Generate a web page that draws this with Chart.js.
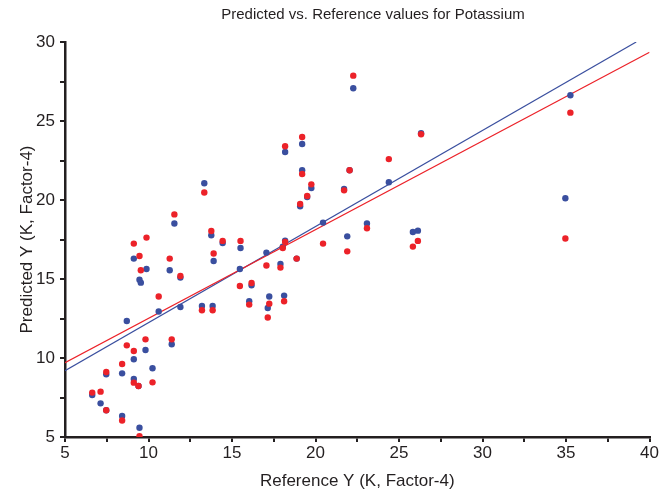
<!DOCTYPE html>
<html>
<head>
<meta charset="utf-8">
<script src="https://cdn.jsdelivr.net/npm/chart.js@4.4.1/dist/chart.umd.min.js"></script>
<style>
  html, body { margin: 0; padding: 0; background: #fff; }
  #chart { display: block; }
</style>
</head>
<body>
<canvas id="chart" width="662" height="494"></canvas>
<script>
// reference values (x) shared by both predicted series
const refX = [6.63, 7.13, 7.47, 7.47, 8.42, 8.42, 8.70, 9.12, 9.12, 9.12, 9.46, 9.54, 9.40, 9.46, 9.88,
  9.82, 10.24, 10.61, 11.27, 11.39, 11.55, 11.91, 11.91, 13.20, 13.34, 13.76, 13.84, 13.90, 14.44, 15.51,
  15.47, 16.03, 16.17, 17.06, 17.14, 17.23, 17.90, 18.04, 18.12, 18.18, 18.18, 18.87, 19.08, 19.20, 19.20,
  19.50, 19.75, 20.45, 21.71, 21.90, 22.04, 22.26, 23.08, 24.39, 25.83, 26.13, 26.32, 34.96, 35.26];

const predBlue = [7.66, 7.13, 8.97, 6.69, 9.03, 6.33, 12.34, 16.29, 9.92, 8.67, 14.96, 14.77, 8.23, 5.59, 15.63,
  10.51, 9.35, 12.94, 15.55, 10.87, 18.51, 15.09, 13.23, 13.29, 21.06, 17.77, 13.29, 16.14, 17.28, 16.96,
  15.63, 13.59, 14.60, 16.67, 13.16, 13.89, 15.95, 17.05, 13.95, 17.43, 23.04, 16.29, 19.60, 23.54, 21.88,
  20.19, 20.76, 18.57, 20.70, 17.70, 21.88, 27.07, 18.51, 21.12, 17.97, 18.06, 24.22, 20.11, 26.63];

const predRed = [7.81, 7.87, 9.11, 6.69, 9.62, 6.04, 10.80, 17.24, 10.44, 8.44, 16.46, 15.55, 8.23, 5.05, 17.62,
  11.18, 8.46, 13.89, 16.29, 11.18, 19.09, 15.19, null, 13.02, 20.47, 18.04, 13.02, 16.61, 17.41, 17.41,
  14.56, 13.38, 14.75, 15.85, 12.56, 13.44, 15.72, 16.96, 13.59, 17.34, 23.40, 16.29, 19.75, 23.99, 21.65,
  20.25, 20.99, 17.24, 20.61, 16.75, 21.88, 27.87, 18.21, 22.59, 17.05, 17.41, 24.16, 17.56, 25.53];

// fitted regression lines (end points)
const blueFitX = [5, 39.2];
const blueFitY = [9.2, 30];
const redFitX = [5, 40];
const redFitY = [9.7, 29.35];

const TITLE = 'Predicted vs. Reference values for Potassium';
const X_TITLE = 'Reference Y (K, Factor-4)';
const Y_TITLE = 'Predicted Y (K, Factor-4)';

const BLUE = '#3a4f9f';
const RED = '#ec2229';
const INK = '#231f20';
const FONT = '"Liberation Sans", Arial, Helvetica, sans-serif';

const toPoints = (xs, ys) => xs.map((x, i) => ({ x, y: ys[i] })).filter(p => p.y !== null);

const titlePlugin = {
  id: 'plotTitle',
  afterDraw(chart) {
    const ctx = chart.ctx;
    ctx.save();
    ctx.font = '15px ' + FONT;
    ctx.fillStyle = INK;
    ctx.textAlign = 'center';
    ctx.textBaseline = 'middle';
    ctx.fillText(TITLE, 373, 15);
    ctx.restore();
  },
};

const axisTick = (v) => (v % 5 === 0 ? v : '');

new Chart(document.getElementById('chart'), {
  type: 'scatter',
  data: {
    datasets: [
      {
        label: 'Blue fit',
        type: 'line',
        data: toPoints(blueFitX, blueFitY),
        borderColor: BLUE,
        borderWidth: 1.2,
        pointRadius: 0,
        fill: false,
        order: 4,
      },
      {
        label: 'Red fit',
        type: 'line',
        data: toPoints(redFitX, redFitY),
        borderColor: RED,
        borderWidth: 1.2,
        pointRadius: 0,
        fill: false,
        order: 3,
      },
      {
        label: 'Blue',
        data: toPoints(refX, predBlue),
        backgroundColor: BLUE,
        borderWidth: 0,
        pointRadius: 3.2,
        order: 2,
      },
      {
        label: 'Red',
        data: toPoints(refX, predRed),
        backgroundColor: RED,
        borderWidth: 0,
        pointRadius: 3.2,
        order: 1,
      },
    ],
  },
  options: {
    responsive: false,
    animation: false,
    devicePixelRatio: 1,
    layout: {
      padding: { top: 42, right: 11, left: 0, bottom: 0 },
    },
    plugins: {
      legend: { display: false },
      tooltip: { enabled: false },
      title: { display: false },
    },
    scales: {
      x: {
        type: 'linear',
        min: 5,
        max: 40,
        afterFit: (scale) => { scale.height = 57; },
        border: { display: true, color: INK, width: 2.5 },
        grid: {
          drawOnChartArea: false,
          drawTicks: true,
          tickLength: 5,
          color: INK,
          lineWidth: 2,
        },
        ticks: {
          stepSize: 2.5,
          autoSkip: false,
          maxRotation: 0,
          padding: 3,
          color: INK,
          font: { family: FONT, size: 17, lineHeight: 1 },
          callback: axisTick,
        },
        title: {
          display: true,
          text: X_TITLE,
          color: INK,
          font: { family: FONT, size: 17, lineHeight: 1 },
          padding: { top: 0, bottom: 4.5 },
        },
      },
      y: {
        type: 'linear',
        min: 5,
        max: 30,
        afterFit: (scale) => { scale.width = 65; },
        border: { display: true, color: INK, width: 2.5 },
        grid: {
          drawOnChartArea: false,
          drawTicks: true,
          tickLength: 5,
          color: INK,
          lineWidth: 2,
        },
        ticks: {
          stepSize: 2.5,
          autoSkip: false,
          padding: 5,
          color: INK,
          font: { family: FONT, size: 17, lineHeight: 1 },
          callback: axisTick,
        },
        title: {
          display: true,
          text: Y_TITLE,
          color: INK,
          font: { family: FONT, size: 17, lineHeight: 1 },
          padding: { top: 18.5, bottom: 0 },
        },
      },
    },
  },
  plugins: [titlePlugin],
});
</script>
</body>
</html>
